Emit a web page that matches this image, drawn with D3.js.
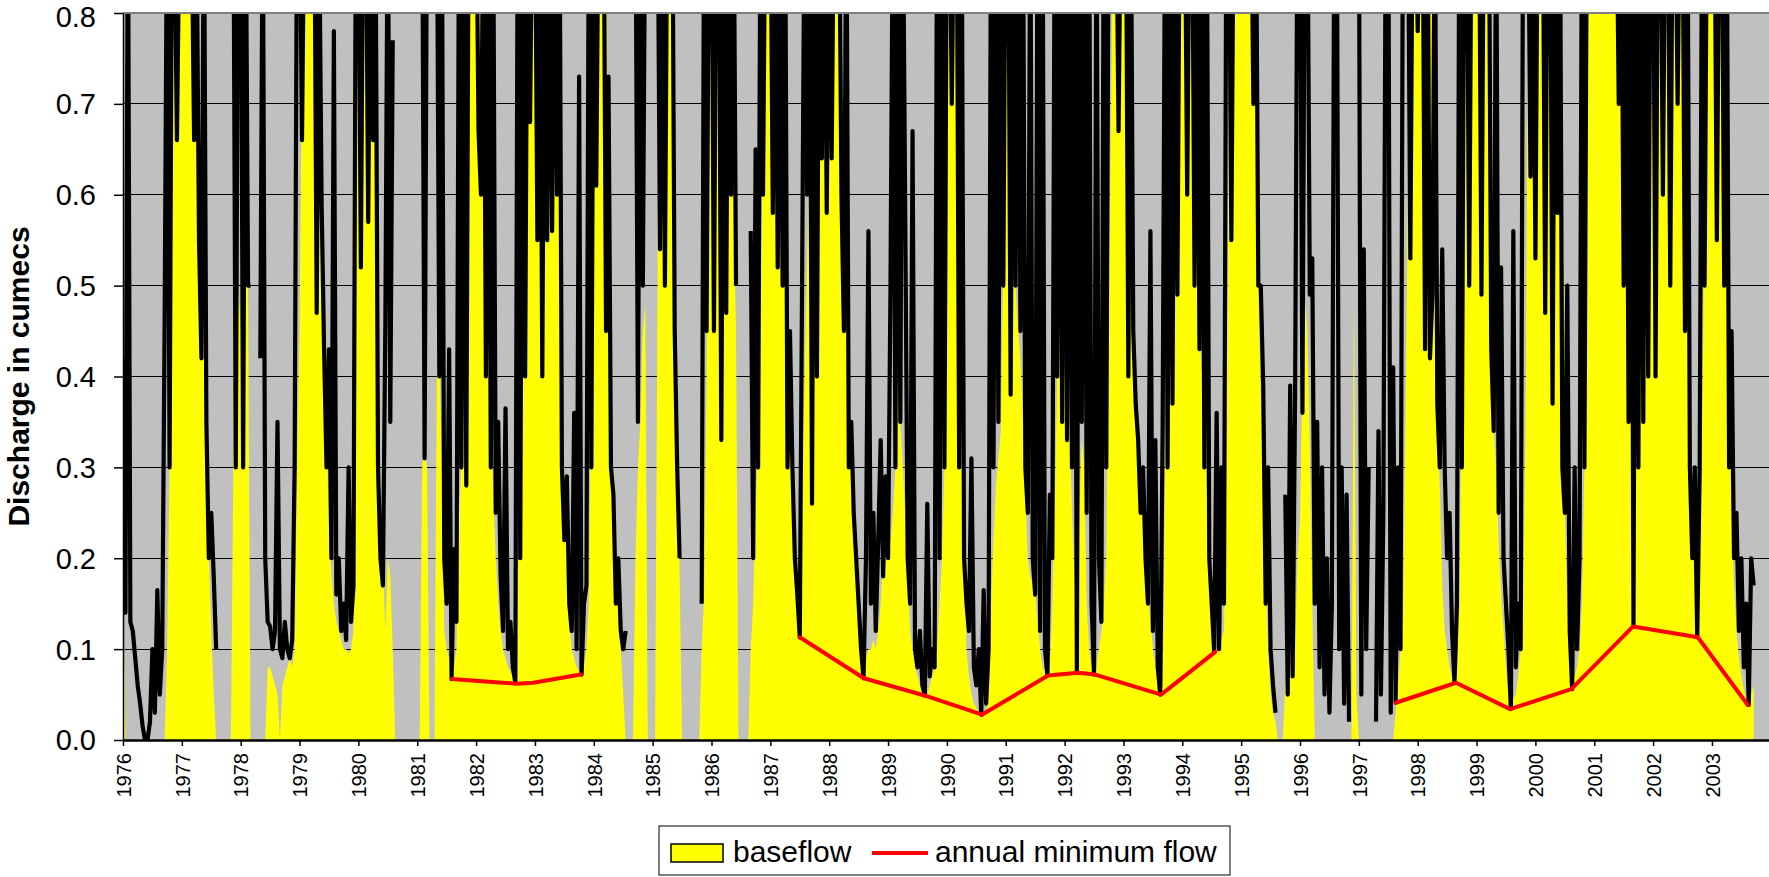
<!DOCTYPE html>
<html><head><meta charset="utf-8">
<script src="https://cdn.jsdelivr.net/npm/d3@7"></script>
<style>
body{margin:0;background:#fff}
svg{display:block}
text{font-family:Arial,"Liberation Sans",Helvetica,sans-serif}
</style>
</head><body>
<svg id="chart" width="1769" height="877"></svg>
<script>
// ---- data (half-monthly samples starting 1 Jan 1976) ----
const startYear = 1976;
const samplesPerYear = 24;

const baseflow = [
/*1976*/ 0.19,0,0,0,0,0,0,0,0,0,0,0,0,0,0,0,0,0,0.1,0.3,0.6,0.85,1,1,
/*1977*/ 1,1,1,1,1,1,0.8,0.57,0.5,0.45,0.24,0.2,0.12,0.05,null,null,null,null,null,null,null,0.3,0.4,0.5,
/*1978*/ 0.45,0.5,0.55,0.5,null,null,null,null,null,null,null,0.08,0.08,0.07,0.06,0.05,0,0.06,0.07,0.08,0.09,0.08,0.1,0.3,
/*1979*/ 0.45,0.75,1,1,1,1,1,1,1,0.5,0.4,0.33,0.24,0.18,0.15,0.13,0.12,0.11,0.1,0.1,0.095,0.1,0.12,0.6,
/*1980*/ 1,1,1,1,1,1,1,0.45,0.35,0.25,0.19,0.12,0.2,0.18,0.1,null,null,null,null,null,null,null,null,null,
/*1981*/ null,null,0.3,0.32,0.3,null,null,null,0.4,0.43,0.3,0.12,0.1,0.09,0.07,0.08,0.1,0.25,0.3,0.38,0.6,0.75,1,1,
/*1982*/ 1,1,1,1,0.85,0.53,0.35,0.27,0.2,0.15,0.12,0.1,0.09,0.08,0.075,0.07,0.07,0.17,0.3,0.4,0.8,1,1,1,
/*1983*/ 1,1,1,1,1,1,1,1,1,1,0.8,0.45,0.28,0.2,0.13,0.1,0.09,0.08,0.075,0.075,0.08,0.1,0.15,0.43,
/*1984*/ 0.9,1,1,1,1,0.9,0.5,0.38,0.28,0.2,0.13,0.1,0.05,null,null,null,null,0.2,0.3,0.35,0.45,0.48,null,null,
/*1985*/ null,null,0.5,1,1,1,1,1,0.9,0.6,0.4,0.18,null,null,null,null,null,null,null,null,0.1,0.16,0.4,0.8,
/*1986*/ 1,1,1,1,1,1,1,1,1,0.58,0.45,null,null,null,null,null,0.1,0.15,0.26,0.32,0.5,0.65,0.85,1,
/*1987*/ 1,1,1,0.9,0.52,0.5,0.5,0.48,0.44,0.35,0.17,0.14,0.12,0.3,0.4,0.53,0.65,0.75,0.9,1,1,1,1,1,
/*1988*/ 1,1,1,1,0.9,0.63,0.56,0.48,0.4,0.3,0.24,0.17,0.13,0.11,0.09,0.09,0.1,0.1,0.11,0.1,0.12,0.15,0.2,0.22,
/*1989*/ 0.2,0.22,0.25,0.3,0.4,0.35,0.3,0.25,0.18,0.12,0.1,0.08,0.07,0.06,0.055,0.05,0.05,0.06,0.07,0.08,0.1,0.15,0.2,0.3,
/*1990*/ 0.45,1,1,1,0.67,0.5,0.3,0.2,0.1,0.07,0.05,0.04,0.035,0.03,0.025,0.025,0.03,0.05,0.15,0.22,0.28,0.31,0.34,0.53,
/*1991*/ 1,1,0.6,0.5,0.5,0.45,0.42,0.35,0.27,0.2,0.18,0.17,0.16,0.13,0.1,0.08,0.075,0.07,0.08,0.15,0.26,0.4,0.48,0.45,
/*1992*/ 0.4,0.45,0.35,0.25,0.18,0.1,0.25,0.33,0.3,0.15,0.1,0.08,0.075,0.08,0.1,0.12,0.15,0.2,0.5,0.7,1,1,1,1,
/*1993*/ 1,1,1,0.56,0.5,0.4,0.33,0.31,0.28,0.22,0.16,0.13,0.1,0.08,0.065,0.055,0.06,0.3,0.6,0.8,1,1,1,1,
/*1994*/ 1,1,1,1,1,0.9,0.6,0.45,0.4,0.33,0.27,0.2,0.15,0.11,0.1,0.1,0.11,0.12,0.3,0.7,1,1,1,1,
/*1995*/ 1,1,1,1,1,1,0.7,0.5,0.38,0.25,0.18,0.1,0.05,0.03,0.02,null,null,null,0.06,0.08,0.08,0.09,0.1,0.2,
/*1996*/ 0.24,0.4,0.49,0.45,0.32,0.15,0,0,0,0,0,0,0,0,0,0,0,0,0,0,0,null,0.49,0.05,
/*1997*/ 0,0,0,0,0,null,null,0,0,0,0,0,0,0,0,0.03,0.06,0.1,0.15,0.35,0.6,0.85,1,1,
/*1998*/ 1,1,1,1,1,1,1,0.5,0.37,0.28,0.17,0.12,0.1,0.08,0.07,0.065,0.07,0.15,0.4,0.75,1,1,1,1,
/*1999*/ 1,1,1,1,1,0.8,0.45,0.34,0.3,0.22,0.16,0.12,0.08,0.05,0.04,0.045,0.05,0.07,0.1,0.15,0.36,0.8,1,1,
/*2000*/ 1,1,1,1,1,1,1,1,1,1,0.7,0.4,0.25,0.15,0.08,0.06,0.07,0.08,0.1,0.15,0.3,0.6,0.9,1,
/*2001*/ 1,1,1,1,1,1,1,1,1,1,1,1,0.8,0.6,0.45,0.35,0.3,0.32,0.4,0.5,0.45,0.55,0.6,0.7,
/*2002*/ 0.7,0.8,1,1,1,1,1,1,1,1,1,1,1,1,0.7,0.45,0.25,0.15,0.12,0.2,0.35,0.6,0.9,1,
/*2003*/ 1,1,1,1,1,0.8,0.5,0.35,0.25,0.17,0.12,0.09,0.07,0.055,0.045,0.04,0.05,0.06
];

const discharge = [
/*1976*/ 0.42,0.14,0.95,0.13,0.12,0.09,0.06,0.04,0.015,0,0,0.02,0.1,0.03,0.165,0.05,0.1,0.47,0.95,0.3,0.95,0.9,0.66,0.9,
/*1977*/ 0.9,0.9,0.9,0.9,0.9,0.66,0.9,0.55,0.42,0.95,0.35,0.2,0.25,0.18,0.1,null,null,null,null,null,null,0.95,0.3,0.95,
/*1978*/ 0.95,0.3,0.95,0.5,0.5,null,null,null,0.42,0.95,0.2,0.13,0.125,0.1,0.12,0.35,0.1,0.09,0.13,0.1,0.09,0.11,0.3,0.95,
/*1979*/ 0.95,0.66,0.95,0.95,0.95,0.9,0.95,0.47,0.9,0.59,0.43,0.3,0.43,0.2,0.78,0.16,0.2,0.12,0.15,0.11,0.3,0.13,0.17,0.95,
/*1980*/ 0.95,0.52,0.95,0.95,0.57,0.95,0.66,0.9,0.3,0.2,0.17,0.46,0.95,0.35,0.77,null,null,null,null,null,null,null,null,null,
/*1981*/ null,null,0.95,0.31,0.95,null,null,null,0.95,0.4,0.95,0.2,0.15,0.43,0.067,0.21,0.13,0.9,0.3,0.95,0.28,0.95,0.9,0.95,
/*1982*/ 0.95,0.67,0.6,0.95,0.4,0.95,0.3,0.9,0.25,0.35,0.18,0.12,0.365,0.1,0.13,0.08,0.063,0.95,0.2,0.95,0.4,0.95,0.68,0.95,
/*1983*/ 0.95,0.55,0.95,0.4,0.95,0.55,0.95,0.56,0.95,0.6,0.95,0.3,0.22,0.29,0.15,0.12,0.36,0.1,0.73,0.072,0.15,0.17,0.95,0.3,
/*1984*/ 0.95,0.61,0.95,0.9,0.95,0.45,0.73,0.3,0.27,0.15,0.2,0.12,0.1,0.12,null,null,null,0.95,0.35,0.95,0.5,0.95,0.95,null,
/*1985*/ null,null,0.95,0.54,0.95,0.5,0.95,0.9,0.95,0.45,0.3,0.2,null,null,null,null,null,null,null,null,0.15,0.95,0.45,0.95,
/*1986*/ 0.95,0.45,0.95,0.95,0.33,0.9,0.47,0.95,0.6,0.95,0.5,null,null,null,null,null,0.56,0.2,0.65,0.3,0.95,0.6,0.95,0.95,
/*1987*/ 0.95,0.58,0.95,0.52,0.95,0.5,0.95,0.3,0.45,0.3,0.2,0.16,0.113,0.53,0.95,0.6,0.95,0.26,0.95,0.4,0.95,0.64,0.95,0.58,
/*1988*/ 0.95,0.64,0.95,0.95,0.95,0.6,0.45,0.95,0.3,0.35,0.25,0.2,0.15,0.1,0.068,0.2,0.56,0.15,0.25,0.12,0.22,0.33,0.18,0.29,
/*1989*/ 0.2,0.5,0.95,0.3,0.95,0.35,0.95,0.58,0.2,0.15,0.67,0.1,0.08,0.12,0.06,0.049,0.26,0.07,0.1,0.08,0.95,0.2,0.95,0.3,
/*1990*/ 0.95,0.95,0.7,0.95,0.95,0.3,0.95,0.2,0.15,0.12,0.31,0.08,0.06,0.1,0.028,0.165,0.04,0.1,0.95,0.3,0.95,0.35,0.95,0.5,
/*1991*/ 0.95,0.95,0.38,0.95,0.5,0.95,0.45,0.95,0.3,0.25,0.95,0.2,0.16,0.95,0.12,0.95,0.1,0.071,0.27,0.2,0.95,0.4,0.95,0.35,
/*1992*/ 0.95,0.33,0.95,0.3,0.95,0.074,0.95,0.35,0.95,0.25,0.95,0.15,0.072,0.95,0.2,0.13,0.95,0.3,0.95,0.95,0.95,0.95,0.67,0.95,
/*1993*/ 0.95,0.95,0.4,0.95,0.45,0.37,0.33,0.25,0.3,0.2,0.15,0.56,0.12,0.33,0.08,0.05,0.35,0.95,0.3,0.95,0.37,0.95,0.49,0.95,
/*1994*/ 0.95,0.95,0.6,0.95,0.95,0.5,0.95,0.43,0.95,0.3,0.95,0.2,0.15,0.097,0.36,0.1,0.3,0.15,0.95,0.95,0.55,0.95,0.95,0.95,
/*1995*/ 0.95,0.95,0.95,0.95,0.95,0.7,0.95,0.5,0.5,0.39,0.15,0.3,0.1,0.06,0.03,null,null,null,0.27,0.05,0.39,0.07,0.38,0.95,
/*1996*/ 0.95,0.36,0.95,0.95,0.49,0.53,0.15,0.35,0.08,0.3,0.05,0.2,0.03,0.15,0.95,0.95,0.1,0.3,0.04,0.27,0.02,null,0.95,0.95,
/*1997*/ 0.95,0.05,0.54,0.1,0.3,null,null,0.02,0.34,0.05,0.25,0.95,0.95,0.03,0.41,0.041,0.3,0.1,0.95,0.95,0.95,0.53,0.95,0.95,
/*1998*/ 0.78,0.95,0.95,0.43,0.95,0.42,0.49,0.95,0.37,0.3,0.54,0.3,0.2,0.25,0.12,0.063,0.15,0.95,0.3,0.95,0.95,0.5,0.95,0.95,
/*1999*/ 0.95,0.95,0.49,0.95,0.95,0.95,0.43,0.34,0.95,0.25,0.52,0.2,0.15,0.1,0.034,0.56,0.08,0.15,0.1,0.95,0.95,0.95,0.62,0.95,
/*2000*/ 0.53,0.95,0.95,0.95,0.47,0.95,0.95,0.37,0.95,0.58,0.95,0.3,0.25,0.5,0.12,0.056,0.3,0.1,0.2,0.95,0.3,0.95,0.95,0.95,
/*2001*/ 0.95,0.95,0.95,0.95,0.95,0.95,0.95,0.95,0.95,0.95,0.7,0.95,0.5,0.95,0.35,0.95,0.125,0.95,0.3,0.95,0.35,0.95,0.4,0.95,
/*2002*/ 0.95,0.4,0.95,0.95,0.6,0.95,0.95,0.5,0.95,0.95,0.7,0.95,0.95,0.45,0.95,0.3,0.2,0.3,0.113,0.3,0.95,0.5,0.95,0.95,
/*2003*/ 0.95,0.95,0.55,0.95,0.95,0.5,0.95,0.3,0.45,0.2,0.25,0.12,0.2,0.08,0.15,0.0385,0.2,0.17
];

// annual minimum flow (null breaks the line)
const minFlowYear  = [1981.59,1982.22,1982.70,1982.97,1983.24,1983.78, null,
                      1987.50,1988.59,1989.62,1990.60,1991.72,1992.23,1992.52,1993.64,1994.56, null,
                      1997.63,1998.65,1999.57,2000.61,2001.66,2002.76,2003.61];
const minFlowValue = [0.067,0.064,0.062,0.063,0.066,0.072, null,
                      0.113,0.068,0.049,0.028,0.071,0.074,0.072,0.050,0.097, null,
                      0.041,0.063,0.034,0.056,0.125,0.113,0.0385];

const yTicks = [0,0.1,0.2,0.3,0.4,0.5,0.6,0.7,0.8];
const yearTicks = [1976,1977,1978,1979,1980,1981,1982,1983,1984,1985,1986,1987,1988,1989,
                   1990,1991,1992,1993,1994,1995,1996,1997,1998,1999,2000,2001,2002,2003];

// ---- layout ----
const L = 123, R = 1769, T = 13, B = 740;
const pxPerYear = 58.85;
const svg = d3.select("#chart");

const x = d3.scaleLinear().domain([startYear, startYear + (R - L) / pxPerYear]).range([L, R]);
const y = d3.scaleLinear().domain([0, 0.8]).range([B, T]);

const t = i => startYear + i / samplesPerYear;

svg.append("defs").append("clipPath").attr("id","plotClip")
  .append("rect").attr("x",L).attr("y",T).attr("width",R-L).attr("height",B-T);

// plot background
svg.append("rect").attr("x",L).attr("y",T).attr("width",R-L).attr("height",B-T).attr("fill","#C0C0C0");

// gridlines
svg.append("g").selectAll("line").data(yTicks.filter(v => v > 0)).join("line")
  .attr("x1",L).attr("x2",R).attr("y1",d=>y(d)).attr("y2",d=>y(d))
  .attr("stroke","#000").attr("stroke-width",1).attr("shape-rendering","crispEdges");

const plot = svg.append("g").attr("clip-path","url(#plotClip)");

// baseflow area (blank = 0)
const area = d3.area()
  .x((d,i) => x(t(i)))
  .y0(y(0))
  .y1(d => y(d == null ? 0 : d));
plot.append("path").datum(baseflow).attr("d", area).attr("fill","#FFFF00");

// discharge line
const line = d3.line()
  .defined(d => d != null)
  .x((d,i) => x(t(i)))
  .y(d => y(d));
plot.append("path").datum(discharge).attr("d", line)
  .attr("fill","none").attr("stroke","#000").attr("stroke-width",4.2)
  .attr("stroke-linejoin","round");

// annual minimum flow
const minData = minFlowYear.map((yr,i) => ({yr, v: minFlowValue[i]}));
const minLine = d3.line().defined(d => d.yr != null && d.v != null)
  .x(d => x(d.yr)).y(d => y(d.v));
plot.append("path").datum(minData).attr("d", minLine)
  .attr("fill","none").attr("stroke","#FF0000").attr("stroke-width",4)
  .attr("stroke-linejoin","round").attr("stroke-linecap","round");

// top border
svg.append("line").attr("x1",L).attr("x2",R).attr("y1",T).attr("y2",T)
  .attr("stroke","#808080").attr("stroke-width",2);

// y axis
const yAxis = svg.append("g").attr("transform",`translate(${L},0)`)
  .call(d3.axisLeft(y).tickValues(yTicks).tickFormat(d3.format(".1f")).tickSize(9).tickSizeOuter(0).tickPadding(18));
yAxis.select(".domain").attr("stroke","#000").attr("stroke-width",1.5);
yAxis.selectAll(".tick line").attr("stroke","#000").attr("stroke-width",1.5);
yAxis.selectAll("text").attr("font-size",29).attr("fill","#000")
  .style("font-family","Arial, 'Liberation Sans', sans-serif")
  .attr("dy", d => d === 0.8 ? "0.46em" : "0.34em");

// x axis
const xAxis = svg.append("g").attr("transform",`translate(0,${B})`)
  .call(d3.axisBottom(x).tickValues(yearTicks).tickFormat(d3.format("d")).tickSize(6).tickSizeOuter(0));
xAxis.select(".domain").attr("stroke","#000").attr("stroke-width",2.5);
xAxis.selectAll(".tick line").attr("stroke","#000").attr("stroke-width",1.5);
xAxis.selectAll("text")
  .attr("transform","rotate(-90)")
  .attr("x",-13).attr("y",0).attr("dy","0.36em")
  .style("text-anchor","end")
  .attr("font-size",20).attr("fill","#000")
  .style("font-family","Arial, 'Liberation Sans', sans-serif");

// y title
svg.append("text")
  .attr("transform",`translate(29,${(T+B)/2}) rotate(-90)`)
  .attr("text-anchor","middle")
  .attr("font-size",30).attr("font-weight","bold").attr("fill","#000")
  .text("Discharge in cumecs");

// legend
const lg = svg.append("g");
lg.append("rect").attr("x",659).attr("y",826).attr("width",571).attr("height",49)
  .attr("fill","#fff").attr("stroke","#000").attr("stroke-width",1);
lg.append("rect").attr("x",671).attr("y",844).attr("width",52).attr("height",18)
  .attr("fill","#FFFF00").attr("stroke","#000").attr("stroke-width",1.5);
lg.append("text").attr("x",733).attr("y",862).attr("font-size",30).attr("fill","#000").text("baseflow");
lg.append("line").attr("x1",872).attr("x2",928).attr("y1",853).attr("y2",853)
  .attr("stroke","#FF0000").attr("stroke-width",4);
lg.append("text").attr("x",935).attr("y",862).attr("font-size",30).attr("fill","#000").text("annual minimum flow");
</script>
</body></html>
